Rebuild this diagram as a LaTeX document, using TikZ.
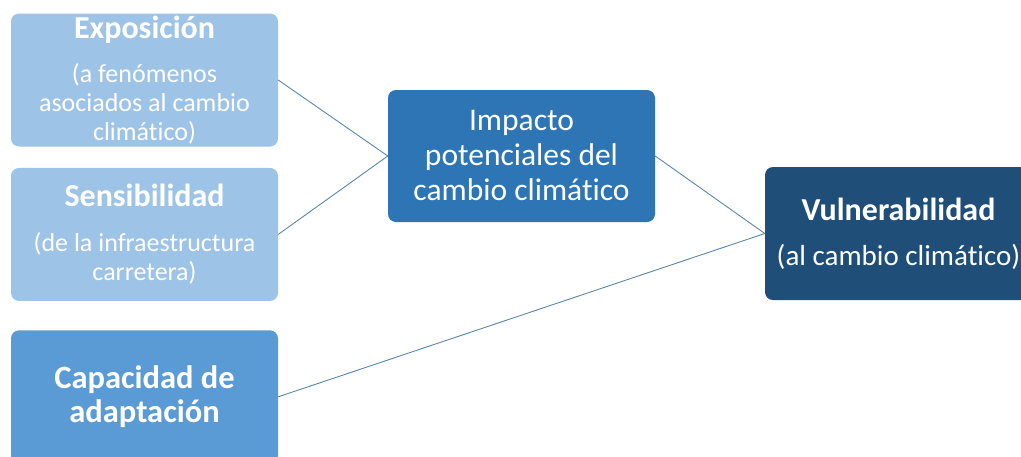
\documentclass[tikz,border=0pt]{standalone}
\usepackage{fontspec}
\setmainfont{Carlito}[Ligatures=NoCommon]
\usetikzlibrary{positioning}
\definecolor{azulclaro}{HTML}{9DC3E6}
\definecolor{azulmedio}{HTML}{5B9BD5}
\definecolor{azul}{HTML}{2E75B6}
\definecolor{azuloscuro}{HTML}{1F4E79}
\definecolor{linea}{HTML}{5B86B0}
\newcommand{\fuentetit}{\bfseries\fontsize{32}{38}\selectfont}

\begin{document}
\begin{tikzpicture}[x=1pt, y=-1pt,
  caja/.style={rounded corners=8pt, minimum width=267pt, minimum height=133pt,
    inner sep=0pt, align=center, text=white, font=\fontsize{26}{29}\selectfont},
  conector/.style={draw=linea, line width=0.9pt}]
\clip (0,0) rectangle (1021,456);
\fill[white] (0,0) rectangle (1021,456);

% cajas de la izquierda
\node[caja, fill=azulclaro] (expo) at (144.5,80)
  {\fuentetit Exposición\\[15pt] (a fenómenos\\ asociados al cambio\\ climático)};
\node[caja, fill=azulclaro, below=21pt of expo] (sens)
  {\fuentetit Sensibilidad\\[16pt] (de la infraestructura\\ carretera)};
\node[caja, fill=azulmedio, below=29pt of sens, font=\bfseries\fontsize{32.5}{34}\selectfont] (capa)
  {Capacidad de\\ adaptación};

% impacto y vulnerabilidad
\node[caja, fill=azul, minimum height=132pt, font=\fontsize{31.5}{35}\selectfont] (impa) at (521.5,156)
  {Impacto\\ potenciales del\\ cambio climático};
\node[caja, fill=azuloscuro, font=\fontsize{29}{32}\selectfont] (vuln) at (898.5,233.5)
  {\fuentetit Vulnerabilidad\\[13pt] (al cambio climático)};

\draw[conector] (expo.east) -- (impa.west);
\draw[conector] (sens.east) -- (impa.west);
\draw[conector] (impa.east) -- (vuln.west);
\draw[conector] (capa.east) -- (vuln.west);
\end{tikzpicture}
\end{document}
